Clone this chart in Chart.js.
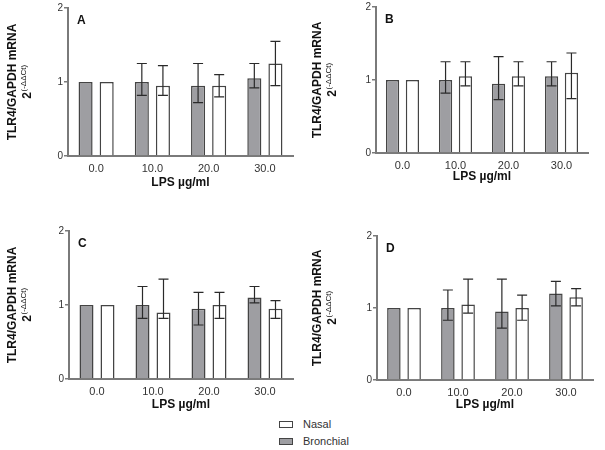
<!DOCTYPE html>
<html>
<head>
<meta charset="utf-8">
<script src="https://cdn.jsdelivr.net/npm/chart.js@4.4.1/dist/chart.umd.min.js"></script>
<style>
    body { margin: 0; background: #fff; font-family: "Liberation Sans", Arial, sans-serif; }
    #page { position: relative; width: 605px; height: 450px; overflow: hidden; }
    canvas { position: absolute; }
    .legend-item { position: absolute; left: 279px; height: 14px; display: flex; align-items: center; font-size: 11px; color: #333; }
    .legend-box { width: 14px; height: 7px; box-sizing: border-box; border: 1.5px solid #444; margin-right: 10px; }
</style>
</head>
<body>
<div id="page">
    <canvas id="panel-a"></canvas>
    <canvas id="panel-b"></canvas>
    <canvas id="panel-c"></canvas>
    <canvas id="panel-d"></canvas>
    <div class="legend-item" style="top:417px"><span class="legend-box" style="background:#fff"></span>Nasal</div>
    <div class="legend-item" style="top:434px"><span class="legend-box" style="background:#9e9ea2"></span>Bronchial</div>
</div>
<script>
// 카테고리 (LPS 농도)
const doses = ['0.0', '10.0', '20.0', '30.0'];
const yTicks = [0, 1, 2];

// 패널 A
const bronchialA = [1.0, 1.0, 0.95, 1.05];
const bronchialALow = [1.0, 0.82, 0.72, 0.92];
const bronchialAHigh = [1.0, 1.25, 1.25, 1.25];
const nasalA = [1.0, 0.95, 0.95, 1.25];
const nasalALow = [1.0, 0.82, 0.80, 0.95];
const nasalAHigh = [1.0, 1.22, 1.10, 1.55];

// 패널 B
const bronchialB = [1.0, 1.0, 0.95, 1.05];
const bronchialBLow = [1.0, 0.82, 0.73, 0.92];
const bronchialBHigh = [1.0, 1.25, 1.32, 1.25];
const nasalB = [1.0, 1.05, 1.05, 1.10];
const nasalBLow = [1.0, 0.92, 0.92, 0.745];
const nasalBHigh = [1.0, 1.25, 1.25, 1.37];

// 패널 C
const bronchialC = [1.0, 1.0, 0.95, 1.10];
const bronchialCLow = [1.0, 0.82, 0.73, 1.03];
const bronchialCHigh = [1.0, 1.25, 1.17, 1.25];
const nasalC = [1.0, 0.90, 1.0, 0.95];
const nasalCLow = [1.0, 0.82, 0.82, 0.82];
const nasalCHigh = [1.0, 1.35, 1.17, 1.06];

// 패널 D
const bronchialD = [1.0, 1.0, 0.95, 1.20];
const bronchialDLow = [1.0, 0.83, 0.72, 1.03];
const bronchialDHigh = [1.0, 1.25, 1.40, 1.37];
const nasalD = [1.0, 1.05, 1.0, 1.15];
const nasalDLow = [1.0, 0.93, 0.83, 1.03];
const nasalDHigh = [1.0, 1.40, 1.18, 1.27];

const FONT = '"Liberation Sans", Arial, sans-serif';
const AXIS_GRAY = '#7a7a7a';

// 에러바 그리기
const errorBarPlugin = {
    id: 'errorBars',
    afterDatasetsDraw(chart) {
        const ctx = chart.ctx;
        const yScale = chart.scales.y;
        ctx.save();
        ctx.strokeStyle = '#2a2a2a';
        ctx.lineWidth = 1.2;
        chart.data.datasets.forEach((ds, i) => {
            const meta = chart.getDatasetMeta(i);
            meta.data.forEach((bar, j) => {
                const lo = ds.errLow[j];
                const hi = ds.errHigh[j];
                if (lo === hi) return;
                const yLo = yScale.getPixelForValue(lo);
                const yHi = yScale.getPixelForValue(hi);
                ctx.beginPath();
                ctx.moveTo(bar.x, yHi);
                ctx.lineTo(bar.x, yLo);
                ctx.moveTo(bar.x - 5, yHi);
                ctx.lineTo(bar.x + 5, yHi);
                ctx.moveTo(bar.x - 5, yLo);
                ctx.lineTo(bar.x + 5, yLo);
                ctx.stroke();
            });
        });
        ctx.restore();
    }
};

// 패널 글자 + y축 제목 (위첨자 포함)
const labelPlugin = {
    id: 'panelLabels',
    afterDraw(chart) {
        const ctx = chart.ctx;
        const area = chart.chartArea;
        const opts = chart.options.plugins.panelLabels;
        ctx.save();
        ctx.fillStyle = '#111';
        ctx.font = 'bold 12px ' + FONT;
        ctx.textBaseline = 'middle';
        ctx.textAlign = 'left';
        ctx.fillText(opts.letter, area.left + 9, area.top + 13);

        // y축 제목
        const cy = (area.top + area.bottom) / 2;
        ctx.translate(opts.titleX, cy);
        ctx.rotate(-Math.PI / 2);
        ctx.textAlign = 'center';
        ctx.fillText('TLR4/GAPDH mRNA', 0, 0);

        const base = '2';
        const sup = '(-\u0394\u0394Ct)';
        ctx.font = 'bold 12px ' + FONT;
        const wBase = ctx.measureText(base).width;
        ctx.font = '8px ' + FONT;
        const wSup = ctx.measureText(sup).width;
        const start = -(wBase + wSup) / 2;
        ctx.textAlign = 'left';
        ctx.font = 'bold 12px ' + FONT;
        ctx.fillText(base, start, 15);
        ctx.font = '8px ' + FONT;
        ctx.fillText(sup, start + wBase + 0.5, 11);
        ctx.restore();
    }
};

/**
 * 패널 하나 생성
 * box: 캔버스 위치 (페이지 좌표), area: 축 영역 (페이지 좌표)
 */
function buildPanel(id, letter, box, area, bronchial, bLow, bHigh, nasal, nLow, nHigh) {
    const canvas = document.getElementById(id);
    canvas.width = box.width;
    canvas.height = box.height;
    canvas.style.left = box.left + 'px';
    canvas.style.top = box.top + 'px';

    const yWidth = area.left - box.left;
    const xHeight = box.top + box.height - area.bottom;
    const titleBottomPad = xHeight - area.titleDy - 7.2;

    return new Chart(canvas.getContext('2d'), {
        type: 'bar',
        data: {
            labels: doses,
            datasets: [
                {
                    label: 'Bronchial',
                    data: bronchial,
                    errLow: bLow,
                    errHigh: bHigh,
                    backgroundColor: '#9e9ea2',
                    borderColor: '#444',
                    borderWidth: 1.5
                },
                {
                    label: 'Nasal',
                    data: nasal,
                    errLow: nLow,
                    errHigh: nHigh,
                    backgroundColor: '#ffffff',
                    borderColor: '#444',
                    borderWidth: 1.5
                }
            ]
        },
        options: {
            responsive: false,
            animation: false,
            categoryPercentage: 0.75,
            barPercentage: 0.667,
            layout: {
                padding: {
                    left: 0,
                    top: area.top - box.top,
                    right: box.left + box.width - area.right,
                    bottom: 0
                }
            },
            scales: {
                x: {
                    grid: { display: false, drawTicks: false },
                    border: { display: true, color: AXIS_GRAY, width: 2 },
                    ticks: { color: '#333', padding: 6, font: { family: FONT, size: 11 } },
                    title: {
                        display: true,
                        text: 'LPS \u00b5g/ml',
                        color: '#111',
                        font: { family: FONT, size: 12, weight: 'bold' },
                        padding: { top: 0, bottom: titleBottomPad }
                    },
                    afterFit(scale) { scale.height = xHeight; }
                },
                y: {
                    min: 0,
                    max: 2,
                    afterBuildTicks(scale) { scale.ticks = yTicks.map(v => ({ value: v })); },
                    grid: { drawOnChartArea: false, drawTicks: true, tickLength: 4, color: AXIS_GRAY, lineWidth: 1.5 },
                    border: { display: true, color: AXIS_GRAY, width: 2 },
                    ticks: { color: '#333', padding: 1, font: { family: FONT, size: 10 } },
                    afterFit(scale) { scale.width = yWidth; }
                }
            },
            plugins: {
                legend: { display: false },
                tooltip: { enabled: false },
                panelLabels: { letter: letter, titleX: area.titleX - box.left }
            }
        },
        plugins: [errorBarPlugin, labelPlugin]
    });
}

buildPanel('panel-a', 'A',
    { left: 0, top: 0, width: 300, height: 215 },
    { left: 68, top: 8, right: 293, bottom: 156, titleDy: 27, titleX: 13 },
    bronchialA, bronchialALow, bronchialAHigh, nasalA, nasalALow, nasalAHigh);

buildPanel('panel-b', 'B',
    { left: 300, top: 0, width: 305, height: 215 },
    { left: 376, top: 7, right: 588, bottom: 153, titleDy: 24, titleX: 318 },
    bronchialB, bronchialBLow, bronchialBHigh, nasalB, nasalBLow, nasalBHigh);

buildPanel('panel-c', 'C',
    { left: 0, top: 220, width: 300, height: 195 },
    { left: 69, top: 231, right: 293, bottom: 379, titleDy: 26, titleX: 13 },
    bronchialC, bronchialCLow, bronchialCHigh, nasalC, nasalCLow, nasalCHigh);

buildPanel('panel-d', 'D',
    { left: 300, top: 220, width: 305, height: 195 },
    { left: 377, top: 236, right: 593, bottom: 380, titleDy: 25, titleX: 318 },
    bronchialD, bronchialDLow, bronchialDHigh, nasalD, nasalDLow, nasalDHigh);
</script>
</body>
</html>
